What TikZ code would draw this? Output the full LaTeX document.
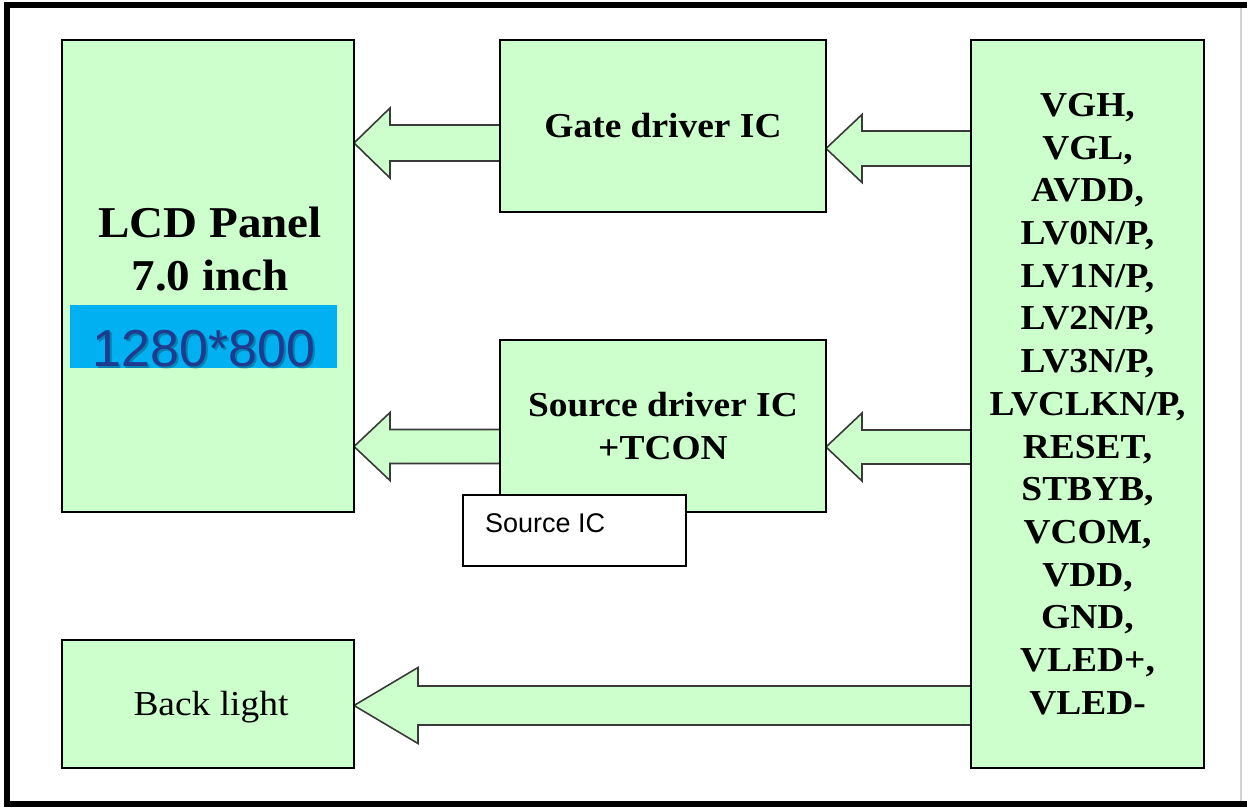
\documentclass[tikz,border=0pt]{standalone}
\usepackage{fontspec}
\setmainfont{Liberation Serif}[FakeStretch=1.07]
\newfontfamily\arialf{Liberation Sans}
\usetikzlibrary{calc,backgrounds}
\definecolor{boxgreen}{HTML}{CCFFCC}
\definecolor{panelblue}{HTML}{00B0F0}
\definecolor{navy}{HTML}{1F3A8F}
\definecolor{arrowedge}{HTML}{3A3A3A}
\newcommand\blkarrow[5]{%
  \draw[barrow] (#1) -- ($(#1)+(#3,-#4)$) -- ($(#1)+(#3,-#5)$) -- ($(#2)+(0,-#5)$)
    -- ($(#2)+(0,#5)$) -- ($(#1)+(#3,#5)$) -- ($(#1)+(#3,#4)$) -- cycle;}
\begin{document}
\begin{tikzpicture}[x=1pt,y=-1pt,
  box/.style={draw=black, line width=2.5pt, fill=boxgreen, inner sep=0pt, outer sep=0pt, anchor=north west},
  barrow/.style={draw=arrowedge, line width=1.6pt, fill=boxgreen, line join=miter},
  lbl/.style={font=\fontsize{35}{42.7}\selectfont\bfseries, align=center, inner sep=0pt}]
\useasboundingbox (0,0) rectangle (1247,811);
% boxes
\node[box, minimum width=292pt, minimum height=472pt] (lcd) at (62,40) {};
\node[box, minimum width=326pt, minimum height=172pt] (gate) at (500,40) {};
\node[box, minimum width=326pt, minimum height=172pt] (src) at (500,340) {};
\node[box, minimum width=233pt, minimum height=728pt] (sig) at (971,40) {};
\node[box, minimum width=292pt, minimum height=128pt] (back) at (62,640) {};
\node[fill=panelblue, inner sep=0pt, outer sep=0pt, anchor=north west, minimum width=267pt, minimum height=63pt] (blue) at (70,305) {};
\node[draw=black, line width=1.2pt, fill=white, inner sep=0pt, outer sep=0pt, anchor=north west, minimum width=223pt, minimum height=71pt] (srcic) at (463,495) {};
% arrows
\coordinate (t1) at (lcd.east |- 0,143);
\coordinate (e1) at (gate.west |- 0,143);
\coordinate (t2) at (gate.east |- 0,148.5);
\coordinate (e2) at (sig.west |- 0,148.5);
\coordinate (t3) at (lcd.east |- 0,446.5);
\coordinate (e3) at (src.west |- 0,446.5);
\coordinate (t4) at (src.east |- 0,447);
\coordinate (e4) at (sig.west |- 0,447);
\coordinate (t5) at (back.east |- 0,705.5);
\coordinate (e5) at (sig.west |- 0,705.5);
\begin{pgfonlayer}{background}
\fill[white] (0,0) rectangle (1247,811);
% outer frame
\draw[line width=5.5pt] (1260,5) -- (7,5) -- (7,804) -- (1260,804);
\draw[gray!35, line width=1.5pt] (1241,8) -- (1241,801);
\blkarrow{t1}{e1}{36}{35}{18}
\blkarrow{t2}{e2}{36}{34}{17.5}
\blkarrow{t3}{e3}{36}{34}{17}
\blkarrow{t4}{e4}{36}{34}{17}
\blkarrow{t5}{e5}{64}{38}{19.5}
\end{pgfonlayer}
% texts
\node[font=\fontsize{44}{53}\selectfont\bfseries, anchor=base, inner sep=0pt] (lcdt1) at (210,237) {LCD Panel};
\node[font=\fontsize{44}{53}\selectfont\bfseries, anchor=base, inner sep=0pt] (lcdt2) at (210,290) {7.0 inch};
\node[font=\arialf\fontsize{52}{60}\selectfont, text=black, opacity=0.25, anchor=base, inner sep=0pt] (resshadow) at (206,368) {1280*800};
\node[font=\arialf\fontsize{52}{60}\selectfont, text=navy, anchor=base, inner sep=0pt] (res) at (204,366) {1280*800};
\node[lbl] (gatet) at (gate.center) {Gate driver IC};
\node[lbl] (srct) at (src.center) {Source driver IC\\+TCON};
\node[lbl] (sigt) at (sig.center) {VGH,\\VGL,\\AVDD,\\LV0N/P,\\LV1N/P,\\LV2N/P,\\LV3N/P,\\LVCLKN/P,\\RESET,\\STBYB,\\VCOM,\\VDD,\\GND,\\VLED+,\\VLED-};
\node[font=\fontsize{35}{42}\selectfont, anchor=base, inner sep=0pt] (backt) at (211,715) {Back light};
\node[font=\arialf\fontsize{27}{32}\selectfont, anchor=base west, inner sep=0pt] (srcict) at (485,532) {Source IC};
\end{tikzpicture}
\end{document}
